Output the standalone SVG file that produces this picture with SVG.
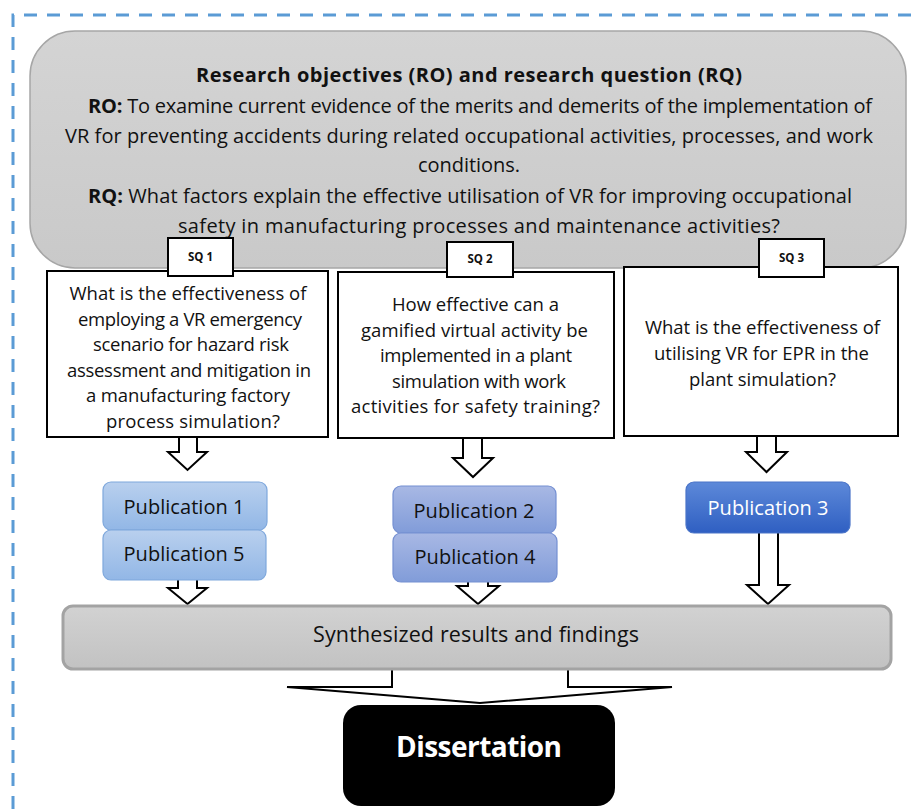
<svg xmlns="http://www.w3.org/2000/svg" width="919" height="809" viewBox="0 0 919 809">
  <defs>
    <linearGradient id="gRO" x1="0" y1="0" x2="0" y2="1">
      <stop offset="0" stop-color="#D4D4D4"/>
      <stop offset="1" stop-color="#C9C9C9"/>
    </linearGradient>
    <linearGradient id="gSyn" x1="0" y1="0" x2="0" y2="1">
      <stop offset="0" stop-color="#D2D2D2"/>
      <stop offset="1" stop-color="#C2C2C2"/>
    </linearGradient>
    <linearGradient id="gLight" x1="0" y1="0" x2="0" y2="1">
      <stop offset="0" stop-color="#B9D0EE"/>
      <stop offset="1" stop-color="#92B7E6"/>
    </linearGradient>
    <linearGradient id="gMid" x1="0" y1="0" x2="0" y2="1">
      <stop offset="0" stop-color="#A8B8E4"/>
      <stop offset="1" stop-color="#819CD9"/>
    </linearGradient>
    <linearGradient id="gDark" x1="0" y1="0" x2="0" y2="1">
      <stop offset="0" stop-color="#5D89D9"/>
      <stop offset="1" stop-color="#2F5FC2"/>
    </linearGradient>
  </defs>
  <style>
    text { font-family: "Open Sans", "Liberation Sans", sans-serif; fill: #111111; }
    .ro { font-size: 20px; }
    .b { font-weight: bold; }
    .sq { font-size: 18.5px; text-anchor: middle; }
    .lbl { font-size: 11.5px; font-weight: bold; text-anchor: middle; }
    .pub { font-size: 20px; text-anchor: middle; }
    .box { fill: #ffffff; stroke: #000000; stroke-width: 2; }
    .arrow { fill: #ffffff; stroke: #000000; stroke-width: 2; stroke-linejoin: miter; }
  </style>

  <!-- dashed frame -->
  <path d="M13,809 V15 H919" fill="none" stroke="#5B9BD5" stroke-width="3" stroke-dasharray="13 10"/>

  <!-- research objectives / question -->
  <g id="ro-rq">
    <rect x="30" y="31" width="876" height="237" rx="45" fill="url(#gRO)" stroke="#A6A6A6" stroke-width="1.5"/>
    <text class="ro b" x="469" y="82" text-anchor="middle" textLength="546">Research objectives (RO) and research question (RQ)</text>
    <text class="ro" x="88" y="113" textLength="784"><tspan class="b">RO:</tspan> To examine current evidence of the merits and demerits of the implementation of</text>
    <text class="ro" x="65" y="143" textLength="808">VR for preventing accidents during related occupational activities, processes, and work</text>
    <text class="ro" x="469" y="172" text-anchor="middle" textLength="102">conditions.</text>
    <text class="ro" x="88" y="203" textLength="764"><tspan class="b">RQ:</tspan> What factors explain the effective utilisation of VR for improving occupational</text>
    <text class="ro" x="178" y="233" textLength="602">safety in manufacturing processes and maintenance activities?</text>
  </g>

  <!-- connectors -->
  <g id="connectors">
    <path class="arrow" d="M179,436 V452 H168 L187.5,470 L207,452 H197 V436 Z"/>
    <path class="arrow" d="M178,572 V588 H168 L187.5,604 L207,588 H197 V572 Z"/>
    <path class="arrow" d="M463,437 V458 H453 L473,477 L493,458 H482 V437 Z"/>
    <path class="arrow" d="M468,575 V586 H457 L478,604 L499,586 H488 V575 Z"/>
    <path class="arrow" d="M757,435 V452 H746 L766.5,472 L787,452 H776 V435 Z"/>
    <path class="arrow" d="M759,530 V585 H747 L768,604 L789,585 H778 V530 Z" stroke-width="3"/>
    <path class="arrow" d="M392,665 V687 H287 L480,703 L672,687 H568 V665 Z" stroke-width="2.5"/>
  </g>

  <!-- sub-question 1 -->
  <g id="sq1">
    <rect class="box" x="47" y="271" width="281" height="166"/>
    <text class="sq" x="188" y="300" textLength="237">What is the effectiveness of</text>
    <text class="sq" x="190" y="326" textLength="224">employing a VR emergency</text>
    <text class="sq" x="191" y="351" textLength="196">scenario for hazard risk</text>
    <text class="sq" x="189" y="377" textLength="244">assessment and mitigation in</text>
    <text class="sq" x="188" y="402" textLength="204">a manufacturing factory</text>
    <text class="sq" x="193" y="428" textLength="174">process simulation?</text>
    <rect class="box" x="168" y="238" width="65" height="38" stroke-width="1.5"/>
    <text class="lbl" x="200.5" y="261">SQ 1</text>
  </g>

  <!-- sub-question 2 -->
  <g id="sq2">
    <rect class="box" x="338" y="272" width="276" height="166"/>
    <text class="sq" x="475.5" y="311" textLength="167">How effective can a</text>
    <text class="sq" x="474.5" y="337" textLength="227">gamified virtual activity be</text>
    <text class="sq" x="476" y="362" textLength="192">implemented in a plant</text>
    <text class="sq" x="479" y="388" textLength="174">simulation with work</text>
    <text class="sq" x="475.5" y="413" textLength="249">activities for safety training?</text>
    <rect class="box" x="447" y="242" width="66" height="35" stroke-width="1.5"/>
    <text class="lbl" x="480" y="263">SQ 2</text>
  </g>

  <!-- sub-question 3 -->
  <g id="sq3">
    <rect class="box" x="624" y="267" width="274" height="169"/>
    <text class="sq" x="762.5" y="334" textLength="235">What is the effectiveness of</text>
    <text class="sq" x="761.5" y="360" textLength="215">utilising VR for EPR in the</text>
    <text class="sq" x="762.5" y="386" textLength="147">plant simulation?</text>
    <rect class="box" x="759" y="239" width="65" height="38" stroke-width="1.5"/>
    <text class="lbl" x="791.5" y="262">SQ 3</text>
  </g>

  <!-- publications -->
  <g id="pub1">
    <rect x="103" y="482" width="164" height="48" rx="8" fill="url(#gLight)" stroke="#7FA8DC" stroke-width="1.2"/>
    <text class="pub" x="184" y="514" textLength="121">Publication 1</text>
  </g>
  <g id="pub5">
    <rect x="103" y="530" width="163" height="50" rx="8" fill="url(#gLight)" stroke="#7FA8DC" stroke-width="1.2"/>
    <text class="pub" x="184" y="561" textLength="121">Publication 5</text>
  </g>
  <g id="pub2">
    <rect x="393" y="486" width="163" height="47" rx="8" fill="url(#gMid)" stroke="#7590D2" stroke-width="1.2"/>
    <text class="pub" x="474" y="518" textLength="121">Publication 2</text>
  </g>
  <g id="pub4">
    <rect x="393" y="533" width="164" height="49" rx="8" fill="url(#gMid)" stroke="#7590D2" stroke-width="1.2"/>
    <text class="pub" x="475" y="564" textLength="121">Publication 4</text>
  </g>
  <g id="pub3">
    <rect x="686" y="482" width="164" height="51" rx="8" fill="url(#gDark)" stroke="#4A74C8" stroke-width="1.2"/>
    <text class="pub" x="768" y="515" textLength="121" style="fill:#ffffff">Publication 3</text>
  </g>

  <!-- synthesis -->
  <g id="synthesis">
    <rect x="63" y="606" width="828" height="63" rx="10" fill="url(#gSyn)" stroke="#A3A3A3" stroke-width="3"/>
    <text x="476" y="642" text-anchor="middle" font-size="21.5" textLength="326">Synthesized results and findings</text>
  </g>

  <!-- dissertation -->
  <g id="dissertation">
    <rect x="343" y="705" width="272" height="101" rx="18" fill="#000000"/>
    <text x="479" y="757" text-anchor="middle" font-size="28" font-weight="bold" textLength="166" style="fill:#ffffff">Dissertation</text>
  </g>
</svg>
